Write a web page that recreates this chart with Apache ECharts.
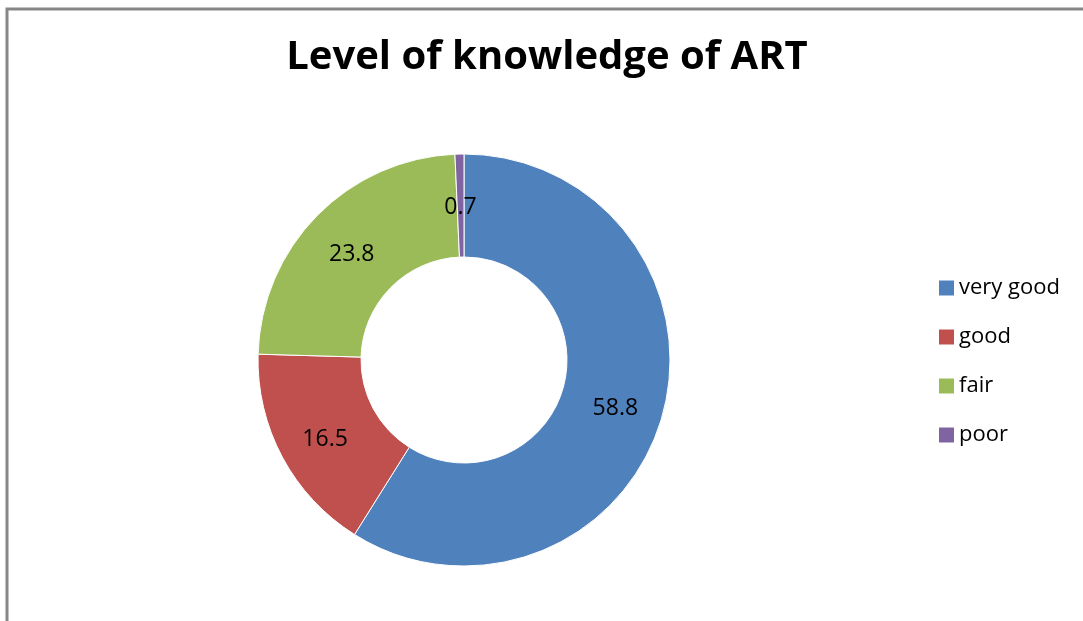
<!DOCTYPE html>
<html>
<head>
<meta charset="utf-8">
<script src="https://cdn.jsdelivr.net/npm/echarts@6/dist/echarts.min.js"></script>
<style>
  html, body { margin: 0; padding: 0; background: #fff; }
  #main { width: 1083px; height: 621px; }
</style>
</head>
<body>
<div id="main"></div>
<script>
// knowledge levels, percent
var categories = ['very good', 'good', 'fair', 'poor'];
var values = [58.8, 16.5, 23.8, 0.7];
var colors = ['#4F81BD', '#C0504D', '#9BBB59', '#8064A2'];

var chart = echarts.init(document.getElementById('main'));

var pieData = categories.map(function (name, i) {
    return { name: name, value: values[i], itemStyle: { color: colors[i] } };
});

chart.setOption({
    backgroundColor: '#fff',
    animation: false,
    title: {
        text: 'Level of knowledge of ART',
        left: 542,
        top: 33,
        textAlign: 'center',
        textStyle: {
            fontFamily: 'Open Sans',
            fontWeight: 'bold',
            fontSize: 40,
            color: '#000'
        }
    },
    legend: {
        orient: 'vertical',
        left: 934,
        top: 272,
        itemWidth: 15,
        itemHeight: 15,
        itemGap: 27,
        icon: 'rect',
        itemStyle: { borderWidth: 0 },
        textStyle: {
            fontFamily: 'Open Sans',
            fontSize: 22,
            color: '#000'
        },
        data: categories
    },
    graphic: [{
        type: 'rect',
        shape: { x: 7, y: 9, width: 1200, height: 800 },
        style: { fill: 'none', stroke: '#878787', lineWidth: 3 },
        silent: true
    }],
    series: [{
        type: 'pie',
        center: [464, 360],
        radius: [103, 206],
        startAngle: 90,
        clockwise: true,
        avoidLabelOverlap: false,
        itemStyle: { borderColor: '#fff', borderWidth: 1 },
        label: {
            show: true,
            position: 'inside',
            formatter: '{v|{c}}',
            rich: {
                v: {
                    fontFamily: 'Open Sans',
                    fontSize: 23,
                    color: '#000',
                    padding: [10, 0, 0, 0]
                }
            }
        },
        labelLine: { show: false },
        emphasis: { disabled: true },
        data: pieData
    }]
});
</script>
</body>
</html>
